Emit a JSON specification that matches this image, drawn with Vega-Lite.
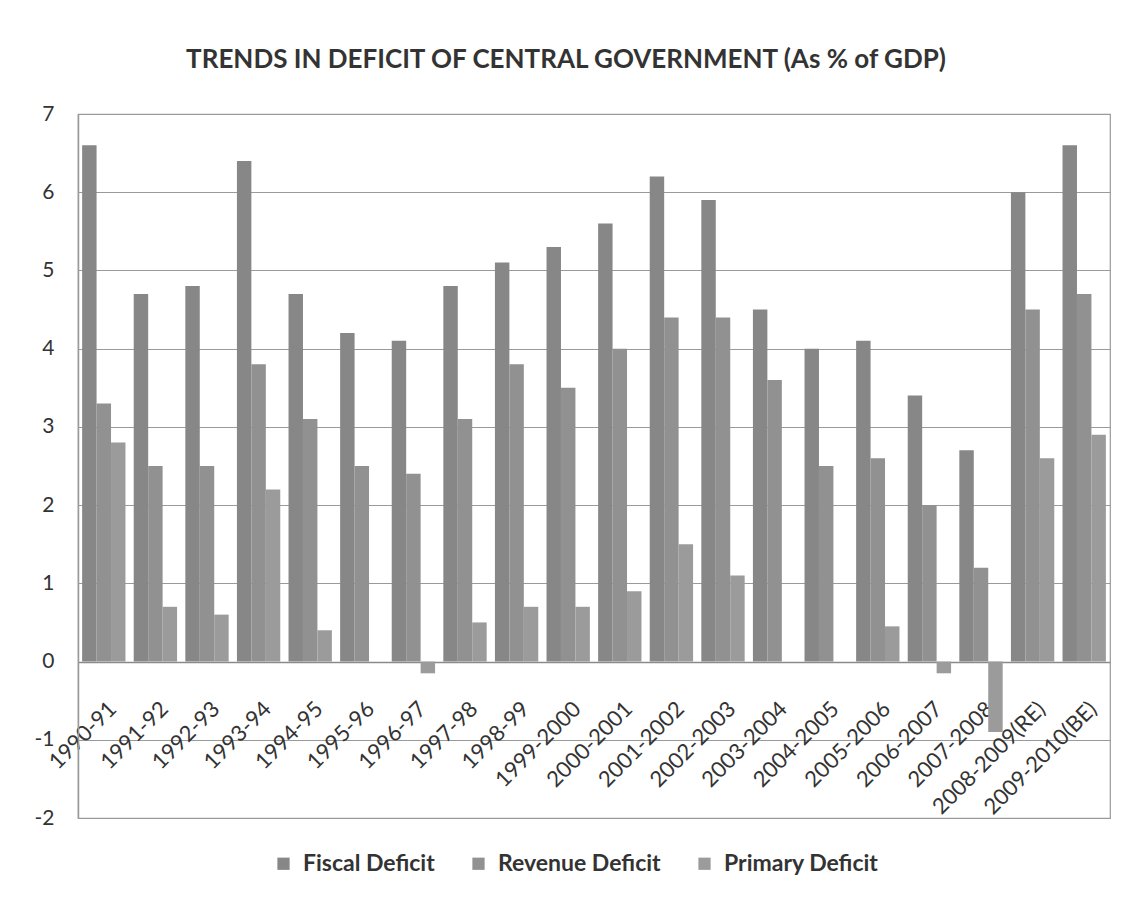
{
  "$schema": "https://vega.github.io/schema/vega-lite/v6.json",
  "autosize": {"type": "none"},
  "padding": {"left": 78, "top": 114, "right": 28, "bottom": 89},
  "width": 1032,
  "height": 704,
  "background": "white",
  "title": {
    "text": "TRENDS IN DEFICIT OF CENTRAL GOVERNMENT (As % of GDP)",
    "font": "Lato",
    "fontSize": 26,
    "fontWeight": "bold",
    "color": "#333333",
    "anchor": "middle",
    "dx": -28,
    "offset": 30
  },
  "data": {
    "values": [
      {"year": "1990-91", "series": "Fiscal Deficit", "value": 6.6},
      {"year": "1990-91", "series": "Revenue Deficit", "value": 3.3},
      {"year": "1990-91", "series": "Primary Deficit", "value": 2.8},
      {"year": "1991-92", "series": "Fiscal Deficit", "value": 4.7},
      {"year": "1991-92", "series": "Revenue Deficit", "value": 2.5},
      {"year": "1991-92", "series": "Primary Deficit", "value": 0.7},
      {"year": "1992-93", "series": "Fiscal Deficit", "value": 4.8},
      {"year": "1992-93", "series": "Revenue Deficit", "value": 2.5},
      {"year": "1992-93", "series": "Primary Deficit", "value": 0.6},
      {"year": "1993-94", "series": "Fiscal Deficit", "value": 6.4},
      {"year": "1993-94", "series": "Revenue Deficit", "value": 3.8},
      {"year": "1993-94", "series": "Primary Deficit", "value": 2.2},
      {"year": "1994-95", "series": "Fiscal Deficit", "value": 4.7},
      {"year": "1994-95", "series": "Revenue Deficit", "value": 3.1},
      {"year": "1994-95", "series": "Primary Deficit", "value": 0.4},
      {"year": "1995-96", "series": "Fiscal Deficit", "value": 4.2},
      {"year": "1995-96", "series": "Revenue Deficit", "value": 2.5},
      {"year": "1995-96", "series": "Primary Deficit", "value": 0},
      {"year": "1996-97", "series": "Fiscal Deficit", "value": 4.1},
      {"year": "1996-97", "series": "Revenue Deficit", "value": 2.4},
      {"year": "1996-97", "series": "Primary Deficit", "value": -0.15},
      {"year": "1997-98", "series": "Fiscal Deficit", "value": 4.8},
      {"year": "1997-98", "series": "Revenue Deficit", "value": 3.1},
      {"year": "1997-98", "series": "Primary Deficit", "value": 0.5},
      {"year": "1998-99", "series": "Fiscal Deficit", "value": 5.1},
      {"year": "1998-99", "series": "Revenue Deficit", "value": 3.8},
      {"year": "1998-99", "series": "Primary Deficit", "value": 0.7},
      {"year": "1999-2000", "series": "Fiscal Deficit", "value": 5.3},
      {"year": "1999-2000", "series": "Revenue Deficit", "value": 3.5},
      {"year": "1999-2000", "series": "Primary Deficit", "value": 0.7},
      {"year": "2000-2001", "series": "Fiscal Deficit", "value": 5.6},
      {"year": "2000-2001", "series": "Revenue Deficit", "value": 4.0},
      {"year": "2000-2001", "series": "Primary Deficit", "value": 0.9},
      {"year": "2001-2002", "series": "Fiscal Deficit", "value": 6.2},
      {"year": "2001-2002", "series": "Revenue Deficit", "value": 4.4},
      {"year": "2001-2002", "series": "Primary Deficit", "value": 1.5},
      {"year": "2002-2003", "series": "Fiscal Deficit", "value": 5.9},
      {"year": "2002-2003", "series": "Revenue Deficit", "value": 4.4},
      {"year": "2002-2003", "series": "Primary Deficit", "value": 1.1},
      {"year": "2003-2004", "series": "Fiscal Deficit", "value": 4.5},
      {"year": "2003-2004", "series": "Revenue Deficit", "value": 3.6},
      {"year": "2003-2004", "series": "Primary Deficit", "value": 0},
      {"year": "2004-2005", "series": "Fiscal Deficit", "value": 4.0},
      {"year": "2004-2005", "series": "Revenue Deficit", "value": 2.5},
      {"year": "2004-2005", "series": "Primary Deficit", "value": 0},
      {"year": "2005-2006", "series": "Fiscal Deficit", "value": 4.1},
      {"year": "2005-2006", "series": "Revenue Deficit", "value": 2.6},
      {"year": "2005-2006", "series": "Primary Deficit", "value": 0.45},
      {"year": "2006-2007", "series": "Fiscal Deficit", "value": 3.4},
      {"year": "2006-2007", "series": "Revenue Deficit", "value": 2.0},
      {"year": "2006-2007", "series": "Primary Deficit", "value": -0.15},
      {"year": "2007-2008", "series": "Fiscal Deficit", "value": 2.7},
      {"year": "2007-2008", "series": "Revenue Deficit", "value": 1.2},
      {"year": "2007-2008", "series": "Primary Deficit", "value": -0.9},
      {"year": "2008-2009(RE)", "series": "Fiscal Deficit", "value": 6.0},
      {"year": "2008-2009(RE)", "series": "Revenue Deficit", "value": 4.5},
      {"year": "2008-2009(RE)", "series": "Primary Deficit", "value": 2.6},
      {"year": "2009-2010(BE)", "series": "Fiscal Deficit", "value": 6.6},
      {"year": "2009-2010(BE)", "series": "Revenue Deficit", "value": 4.7},
      {"year": "2009-2010(BE)", "series": "Primary Deficit", "value": 2.9}
    ]
  },
  "mark": {"type": "bar"},
  "encoding": {
    "x": {
      "field": "year",
      "type": "nominal",
      "sort": null,
      "title": null,
      "scale": {"paddingInner": 0.16, "paddingOuter": 0.08},
      "axis": {
        "offset": -156,
        "labelAngle": -45,
        "labelFont": "Lato",
        "labelFontSize": 22,
        "labelColor": "#333333",
        "labelPadding": 36,
        "labelOffset": 2,
        "labelOverlap": false,
        "ticks": false,
        "domainColor": "#8a8a8a",
        "domainWidth": 1.5,
        "grid": false
      }
    },
    "xOffset": {
      "field": "series",
      "type": "nominal",
      "sort": ["Fiscal Deficit", "Revenue Deficit", "Primary Deficit"],
      "scale": {"paddingInner": 0, "paddingOuter": 0}
    },
    "y": {
      "field": "value",
      "type": "quantitative",
      "title": null,
      "scale": {"domain": [-2, 7], "nice": false, "zero": false},
      "axis": {
        "values": [-2, -1, 0, 1, 2, 3, 4, 5, 6, 7],
        "labelExpr": "toString(datum.value)",
        "labelFont": "Lato",
        "labelFontSize": 21,
        "labelColor": "#333333",
        "labelPadding": 24,
        "ticks": false,
        "domainColor": "#9a9a9a",
        "domainWidth": 1.5,
        "gridColor": "#9a9a9a",
        "gridWidth": 1.2
      }
    },
    "color": {
      "field": "series",
      "type": "nominal",
      "sort": ["Fiscal Deficit", "Revenue Deficit", "Primary Deficit"],
      "scale": {
        "domain": ["Fiscal Deficit", "Revenue Deficit", "Primary Deficit"],
        "range": ["#878787", "#919191", "#9b9b9b"]
      },
      "legend": {
        "orient": "none",
        "legendX": 194,
        "legendY": 738,
        "direction": "horizontal",
        "title": null,
        "symbolType": "square",
        "symbolSize": 150,
        "labelFont": "Lato",
        "labelFontSize": 23,
        "labelFontWeight": "bold",
        "labelColor": "#333333",
        "labelLimit": 0,
        "columnPadding": 32,
        "labelOffset": 8
      }
    }
  },
  "config": {
    "view": {"stroke": "#9a9a9a", "strokeWidth": 1.2}
  }
}
